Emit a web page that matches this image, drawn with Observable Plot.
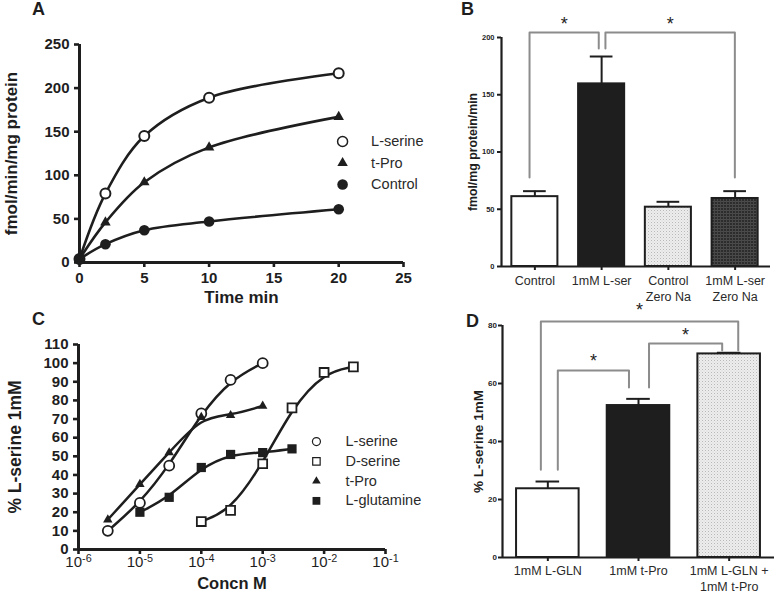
<!DOCTYPE html>
<html><head><meta charset="utf-8">
<script src="https://cdn.jsdelivr.net/npm/d3@7"></script>
<script src="https://cdn.jsdelivr.net/npm/@observablehq/plot@0.6"></script>
<style>
body{margin:0;background:#fff;font-family:"Liberation Sans",Arial,Helvetica,sans-serif;}
#fig{position:relative;width:777px;height:596px;overflow:hidden;background:#fff;}
.lbl{position:absolute;font-weight:bold;font-size:18px;line-height:1;color:#1e1e1e;}
</style></head><body><div id="fig"></div>
<script>
// ---------- DATA ----------
// Panel A: uptake vs time
const timeMin   = [0, 2, 5, 10, 20];
const aLserine  = [4, 79, 145, 189, 217];
const aTPro     = [4, 46, 92, 132, 167];
const aControl  = [4, 21, 37, 47, 61];
const aSeries   = ["L-serine", "t-Pro", "Control"];
const aXTicks   = [0, 5, 10, 15, 20, 25];
const aYTicks   = [0, 50, 100, 150, 200, 250];

// Panel B: bars
const bCategories = ["Control", "1mM L-ser", "Control\nZero Na", "1mM L-ser\nZero Na"];
const bMeans      = [61, 159.5, 51.8, 59.4];
const bErrTop     = [65.8, 183.4, 56.5, 65.8];
const bYTicks     = [0, 50, 100, 150, 200];
const bBrackets   = [
  {from: -0.08, to: 0.957, y1: 77.7, top: 204.4, y2: 190.4, star: 214.8},
  {from: 1.057, to: 2.996, y1: 190.4, top: 204.4, y2: 77.7, star: 214.8}
];

// Panel C: concentration response
const cSeries = ["L-serine", "D-serine", "t-Pro", "L-glutamine"];
const cLserX = [3e-6, 1e-5, 3e-5, 1e-4, 3e-4, 1e-3];
const cLserY = [10, 25, 45, 73, 91, 100];
const cDserX = [1e-4, 3e-4, 1e-3, 3e-3, 1e-2, 3e-2];
const cDserY = [15, 21, 46, 76, 95, 98];
const cTProX = [3e-6, 1e-5, 3e-5, 1e-4, 3e-4, 1e-3];
const cTProY = [16, 35, 52, 71, 72, 77];
const cLglnX = [1e-5, 3e-5, 1e-4, 3e-4, 1e-3, 3e-3];
const cLglnY = [20, 28, 44, 51, 52, 54];
const cXTicks = [1e-6, 1e-5, 1e-4, 1e-3, 1e-2, 1e-1];
const cYTicks = [0, 10, 20, 30, 40, 50, 60, 70, 80, 90, 100, 110];

// Panel D: bars
const dCategories = ["1mM L-GLN", "1mM t-Pro", "1mM L-GLN +\n1mM t-Pro"];
const dMeans      = [23.7, 52.4, 70.2];
const dErrTop     = [26.2, 54.7, 70.6];
const dYTicks     = [0, 20, 40, 60, 80];
const dBrackets   = [
  {from: -0.077, to: 2.1,   y1: 30.3, top: 81.4, y2: 71.4, star: 86.6},
  {from: 0.11,   to: 0.895, y1: 30.3, top: 64.5, y2: 58.6, star: 69.0},
  {from: 1.116,  to: 1.923, y1: 58.6, top: 73.8, y2: 71.4, star: 77.9}
];

// ---------- STYLE ----------
const INK = "#1e1e1e", TXT = "#2a2a2a", GREY = "#8c8c8c";
const FONT = "'Liberation Sans', Arial, Helvetica, sans-serif";
const baseStyle = {background: "transparent", overflow: "visible", fontFamily: FONT, color: INK};
const fig = document.getElementById("fig");
function place(node, left, top) {
  node.style.position = "absolute";
  node.style.left = left + "px";
  node.style.top = top + "px";
  node.style.maxWidth = "none";
  fig.appendChild(node);
}
function label(txt, left, top) {
  const d = document.createElement("div");
  d.className = "lbl"; d.textContent = txt;
  d.style.left = left + "px"; d.style.top = top + "px";
  fig.appendChild(d);
}
function bracketPoints(brs) {
  return brs.flatMap((b, k) => [
    {k, x: b.from, y: b.y1}, {k, x: b.from, y: b.top},
    {k, x: b.to, y: b.top}, {k, x: b.to, y: b.y2}
  ]);
}
function patternDefs(prefix) {
  return () => {
    const defs = d3.create("svg:defs");
    const p1 = defs.append("pattern").attr("id", prefix + "Stip")
      .attr("width", 3).attr("height", 3).attr("patternUnits", "userSpaceOnUse");
    p1.append("rect").attr("width", 3).attr("height", 3).attr("fill", "#ededed");
    p1.append("rect").attr("width", 1).attr("height", 1).attr("fill", "#b8b8b8");
    p1.append("rect").attr("x", 1.5).attr("y", 1.5).attr("width", 1).attr("height", 1).attr("fill", "#d2d2d2");
    const p2 = defs.append("pattern").attr("id", prefix + "Dark")
      .attr("width", 3).attr("height", 3).attr("patternUnits", "userSpaceOnUse");
    p2.append("rect").attr("width", 3).attr("height", 3).attr("fill", "#2c2c2c");
    p2.append("rect").attr("width", 3).attr("height", 1).attr("fill", "#4c4c4c");
    p2.append("rect").attr("width", 1).attr("height", 3).attr("fill", "#474747");
    return defs.node();
  };
}
const powTen = d => "10^" + Math.round(Math.log10(d));

// ---------- PANEL A ----------
const aRows = timeMin.flatMap((t, i) => [
  {series: "L-serine", t, v: aLserine[i]},
  {series: "t-Pro", t, v: aTPro[i]},
  {series: "Control", t, v: aControl[i]}
]);
const aSym = {
  "L-serine": {symbol: "circle", r: 5, fill: "white", stroke: INK},
  "t-Pro": {symbol: "triangle", r: 3.9, fill: INK, stroke: "none"},
  "Control": {symbol: "circle", r: 5.3, fill: INK, stroke: "none"}
};
const aLegDotX = 20.3, aLegTxtX = 22.5, aLegY0 = 138.8, aLegStep = 24.7;
const plotA = Plot.plot({
  width: 440, height: 315, marginLeft: 79, marginRight: 37, marginTop: 44, marginBottom: 53,
  style: baseStyle,
  x: {domain: [0, 25], axis: null},
  y: {domain: [0, 250], axis: null},
  marks: [
    Plot.axisX({ticks: aXTicks, tickSize: 5, tickPadding: 5, strokeWidth: 2.6, fontSize: 15, fontWeight: "bold", color: INK, label: null}),
    Plot.axisY({ticks: aYTicks, tickSize: 5, tickPadding: 5, strokeWidth: 2.6, fontSize: 15, fontWeight: "bold", color: INK, label: null}),
    Plot.ruleX([0], {stroke: INK, strokeWidth: 3}),
    Plot.ruleY([0], {stroke: INK, strokeWidth: 3}),
    Plot.line(aRows, {x: "t", y: "v", z: "series", curve: "catmull-rom", stroke: INK, strokeWidth: 2.6}),
    ...aSeries.map(s => Plot.dot(aRows.filter(d => d.series === s), {x: "t", y: "v", ...aSym[s], strokeWidth: 2})),
    ...aSeries.map((s, i) => Plot.dot([s], {x: () => aLegDotX, y: () => aLegY0 - i * aLegStep, ...aSym[s], strokeWidth: 1.5})),
    Plot.text(aSeries, {x: () => aLegTxtX, y: (d, i) => aLegY0 - i * aLegStep, text: d => d, textAnchor: "start", fontSize: 14.5, fill: TXT}),
    Plot.text(["Time min"], {frameAnchor: "bottom", dy: 40, text: d => d, fontSize: 17, fontWeight: "bold", fill: INK}),
    Plot.text(["fmol/min/mg protein"], {frameAnchor: "left", textAnchor: "middle", dx: -68, rotate: -90, text: d => d, fontSize: 17, fontWeight: "bold", fill: INK})
  ]
});
place(plotA, 0, 0);

// ---------- PANEL C ----------
const cRows = [
  ...cLserX.map((x, i) => ({series: "L-serine", x, v: cLserY[i]})),
  ...cDserX.map((x, i) => ({series: "D-serine", x, v: cDserY[i]})),
  ...cTProX.map((x, i) => ({series: "t-Pro", x, v: cTProY[i]})),
  ...cLglnX.map((x, i) => ({series: "L-glutamine", x, v: cLglnY[i]}))
];
const cSym = {
  "L-serine": {symbol: "circle", r: 5, fill: "white", stroke: INK, strokeWidth: 1.8},
  "D-serine": {symbol: "square", r: 5, fill: "white", stroke: INK, strokeWidth: 1.8},
  "t-Pro": {symbol: "triangle", r: 3.5, fill: INK, stroke: "none"},
  "L-glutamine": {symbol: "square", r: 5.2, fill: INK, stroke: "none"}
};
const cLegSym = {
  "L-serine": {symbol: "circle", r: 4, fill: "white", stroke: INK, strokeWidth: 1.2},
  "D-serine": {symbol: "square", r: 4.2, fill: "white", stroke: INK, strokeWidth: 1.2},
  "t-Pro": {symbol: "triangle", r: 3.2, fill: INK, stroke: "none"},
  "L-glutamine": {symbol: "square", r: 4.4, fill: INK, stroke: "none"}
};
const cLegDotX = 7.5e-3, cLegTxtX = 2.23e-2, cLegY0 = 57.9, cLegStep = 10.6;
const plotC = Plot.plot({
  width: 440, height: 296, marginLeft: 78, marginRight: 55, marginTop: 44, marginBottom: 47,
  style: baseStyle,
  x: {type: "log", domain: [1e-6, 1e-1], axis: null},
  y: {domain: [0, 110], axis: null},
  marks: [
    Plot.axisX({ticks: cXTicks, tickFormat: powTen, tickSize: 5, tickPadding: 2, strokeWidth: 2.6, fontSize: 15, color: INK, label: null}),
    Plot.axisY({ticks: cYTicks, tickSize: 5, tickPadding: 5, strokeWidth: 2.6, fontSize: 15, fontWeight: "bold", color: INK, label: null}),
    Plot.ruleX([1e-6], {stroke: INK, strokeWidth: 3}),
    Plot.ruleY([0], {stroke: INK, strokeWidth: 3}),
    Plot.line(cRows, {x: "x", y: "v", z: "series", curve: "basis", stroke: INK, strokeWidth: 2.5}),
    ...cSeries.map(s => Plot.dot(cRows.filter(d => d.series === s), {x: "x", y: "v", ...cSym[s]})),
    ...cSeries.map((s, i) => Plot.dot([s], {x: () => cLegDotX, y: () => cLegY0 - i * cLegStep, ...cLegSym[s]})),
    Plot.text(cSeries, {x: () => cLegTxtX, y: (d, i) => cLegY0 - i * cLegStep, text: d => d, textAnchor: "start", fontSize: 14.5, fill: TXT}),
    Plot.text(["Concn M"], {frameAnchor: "bottom", dy: 39, text: d => d, fontSize: 16.5, fontWeight: "bold", fill: INK}),
    Plot.text(["% L-serine 1mM"], {frameAnchor: "left", textAnchor: "middle", dx: -63, rotate: -90, text: d => d, fontSize: 17.5, fontWeight: "bold", fill: INK})
  ]
});
// render exponents as raised text
d3.select(plotC).selectAll('g[aria-label="x-axis tick label"] text').each(function () {
  const s = this.textContent;
  const m = /^10\^(-?\d+)$/.exec(s);
  if (!m) return;
  const t = d3.select(this);
  t.text(null);
  t.append("tspan").text("10");
  t.append("tspan").attr("dy", "-0.5em").attr("font-size", "0.72em").text(m[1]);
});
place(plotC, 0, 300);

// ---------- PANEL B ----------
const bIdx = d3.range(bCategories.length);
const bFills = ["white", INK, "url(#bStip)", "url(#bDark)"];
const barHalf = 0.345, bCap = 0.17;
const plotB = Plot.plot({
  width: 387, height: 300, marginLeft: 111, marginRight: 9, marginTop: 37, marginBottom: 34,
  style: baseStyle,
  x: {domain: [-0.5, 3.5], axis: null},
  y: {domain: [0, 200], axis: null},
  marks: [
    patternDefs("b"),
    Plot.axisX({ticks: bIdx, tickFormat: i => bCategories[i], tickSize: 4, tickPadding: 3, strokeWidth: 2, fontSize: 12.5, lineHeight: 1.3, fill: TXT, stroke: INK, label: null}),
    Plot.axisY({ticks: bYTicks, tickSize: 4, tickPadding: 3, strokeWidth: 2, fontSize: 7.5, fontWeight: "bold", color: INK, label: null}),
    ...bIdx.map(i => Plot.rect([i], {x1: d => d - barHalf, x2: d => d + barHalf, y1: 0, y2: d => bMeans[d], fill: bFills[i], stroke: INK, strokeWidth: 2})),
    Plot.ruleX(bIdx, {x: i => i, y1: i => bMeans[i], y2: i => bErrTop[i], stroke: INK, strokeWidth: 2}),
    Plot.ruleY(bIdx, {y: i => bErrTop[i], x1: i => i - bCap, x2: i => i + bCap, stroke: INK, strokeWidth: 2}),
    Plot.ruleX([-0.5], {stroke: INK, strokeWidth: 2.2}),
    Plot.ruleY([0], {x1: -0.5, x2: 3.53, stroke: INK, strokeWidth: 2.2}),
    Plot.line(bracketPoints(bBrackets), {x: "x", y: "y", z: "k", stroke: GREY, strokeWidth: 2}),
    Plot.text(bBrackets, {x: d => (d.from + d.to) / 2, y: "star", text: () => "*", dy: 4, fontSize: 18, fill: INK}),
    Plot.text(["fmol/mg protein/min"], {frameAnchor: "left", textAnchor: "middle", dx: -28, rotate: -90, text: d => d, fontSize: 12.3, fontWeight: "bold", fill: INK})
  ]
});
place(plotB, 390, 0);

// ---------- PANEL D ----------
const dIdx = d3.range(dCategories.length);
const dFills = ["white", INK, "url(#dStip)"];
const dCap = 0.13;
const plotD = Plot.plot({
  width: 387, height: 296, marginLeft: 112, marginRight: 3, marginTop: 25, marginBottom: 39,
  style: baseStyle,
  x: {domain: [-0.5, 2.5], axis: null},
  y: {domain: [0, 80], axis: null},
  marks: [
    patternDefs("d"),
    Plot.axisX({ticks: dIdx, tickFormat: i => dCategories[i], tickSize: 4, tickPadding: 2, strokeWidth: 2, fontSize: 12.5, lineHeight: 1.3, fill: TXT, stroke: INK, label: null}),
    Plot.axisY({ticks: dYTicks, tickSize: 4, tickPadding: 1.5, strokeWidth: 2, fontSize: 8, fontWeight: "bold", color: INK, label: null}),
    ...dIdx.map(i => Plot.rect([i], {x1: d => d - barHalf, x2: d => d + barHalf, y1: 0, y2: d => dMeans[d], fill: dFills[i], stroke: INK, strokeWidth: 2})),
    Plot.ruleX(dIdx, {x: i => i, y1: i => dMeans[i], y2: i => dErrTop[i], stroke: INK, strokeWidth: 2}),
    Plot.ruleY(dIdx, {y: i => dErrTop[i], x1: i => i - dCap, x2: i => i + dCap, stroke: INK, strokeWidth: 2}),
    Plot.ruleX([-0.5], {stroke: INK, strokeWidth: 2.2}),
    Plot.ruleY([0], {stroke: INK, strokeWidth: 2.2}),
    Plot.line(bracketPoints(dBrackets), {x: "x", y: "y", z: "k", stroke: GREY, strokeWidth: 2}),
    Plot.text(dBrackets, {x: d => (d.from + d.to) / 2, y: "star", text: () => "*", dy: 4, fontSize: 18, fill: INK}),
    Plot.text(["% L-serine 1mM"], {frameAnchor: "left", textAnchor: "middle", dx: -24, rotate: -90, text: d => d, fontSize: 13.5, fontWeight: "bold", fill: INK})
  ]
});
place(plotD, 390, 300);

// panel letters
label("A", 32, 0);
label("B", 461, 0);
label("C", 32, 310);
label("D", 466, 312);
</script></body></html>
